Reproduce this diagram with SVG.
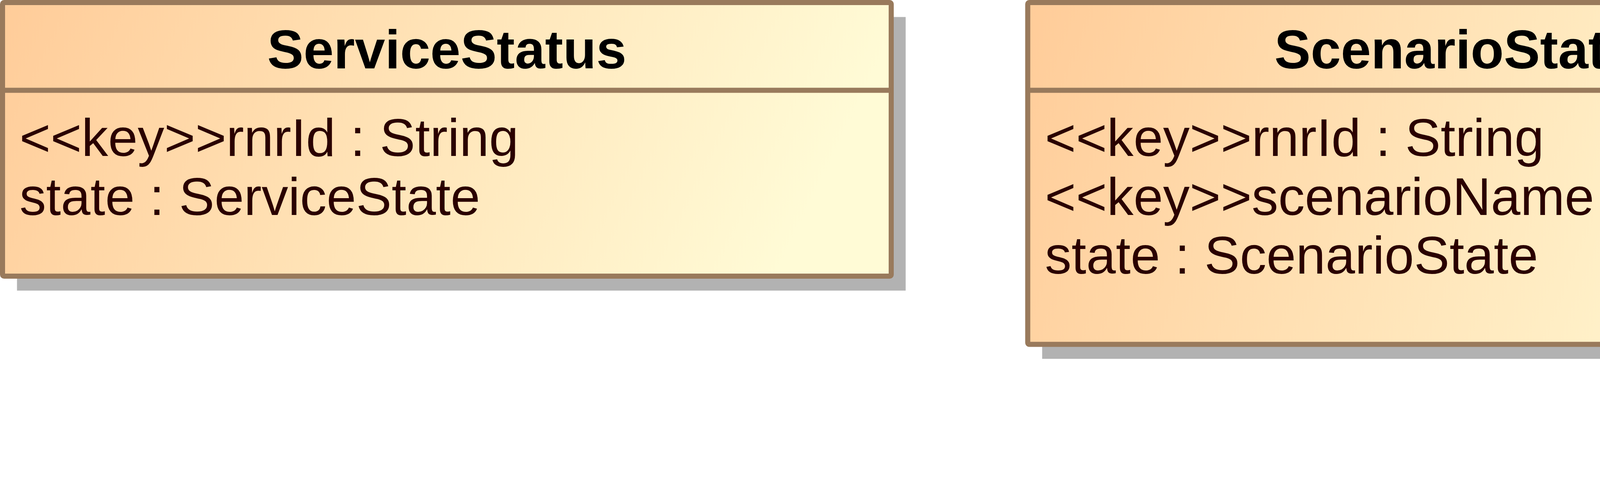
<svg xmlns="http://www.w3.org/2000/svg" width="7569" height="1269" viewBox="0 0 7569 1269">
<style>
.shadow{fill:#B2B2B2;stroke:none}
.box{fill:url(#classFill);stroke:#997A5C;stroke-width:13}
.div{stroke:#997A5C;stroke-width:13}
.title{font-family:"Liberation Sans",Arial,sans-serif;font-weight:bold;font-size:139px;fill:#000000;text-anchor:middle}
.attr{font-family:"Liberation Sans",Arial,sans-serif;font-size:136px;fill:#2A0000}
</style>
<defs>
<linearGradient id="classFill" x1="0" y1="0" x2="1" y2="0.15">
<stop offset="0" stop-color="#FFCC99"/>
<stop offset="1" stop-color="#FFFBD6"/>
</linearGradient>
</defs>
<g id="ServiceStatus">
<rect class="shadow" x="43.5" y="43.5" width="2275" height="700"/>
<rect class="box" x="6.5" y="6.5" width="2275" height="700" rx="4"/>
<line class="div" x1="6.5" y1="231" x2="2281.5" y2="231"/>
<text class="title" x="1144" y="175">ServiceStatus</text>
<text class="attr" x="50" y="399">&lt;&lt;key&gt;&gt;rnrId : String</text>
<text class="attr" x="50" y="550">state : ServiceState</text>
</g>
<g id="ScenarioStatus">
<rect class="shadow" x="2668" y="43.5" width="2275" height="874.5"/>
<rect class="box" x="2631" y="6.5" width="2275" height="874.5" rx="4"/>
<line class="div" x1="2631" y1="231" x2="4906" y2="231"/>
<text class="title" x="3768.5" y="175">ScenarioStatus</text>
<text class="attr" x="2675" y="399">&lt;&lt;key&gt;&gt;rnrId : String</text>
<text class="attr" x="2675" y="550">&lt;&lt;key&gt;&gt;scenarioName : String</text>
<text class="attr" x="2675" y="700">state : ScenarioState</text>
</g>
<g id="StorageStatus">
<rect class="shadow" x="5293" y="43.5" width="2275" height="1227.5"/>
<rect class="box" x="5256" y="6.5" width="2275" height="1227.5" rx="4"/>
<line class="div" x1="5256" y1="231" x2="7531" y2="231"/>
<text class="title" x="6393.5" y="175">StorageStatus</text>
<text class="attr" x="5300" y="399">&lt;&lt;key&gt;&gt;rnrId : String</text>
<text class="attr" x="5300" y="550">&lt;&lt;key&gt;&gt;storageName : String</text>
<text class="attr" x="5300" y="700">state : StorageState</text>
<text class="attr" x="5300" y="850">storageAttr : String</text>
<text class="attr" x="5300" y="1000">properties : sequence&lt;KeyValue&gt;</text>
</g>
<g id="connectors"/>
</svg>
